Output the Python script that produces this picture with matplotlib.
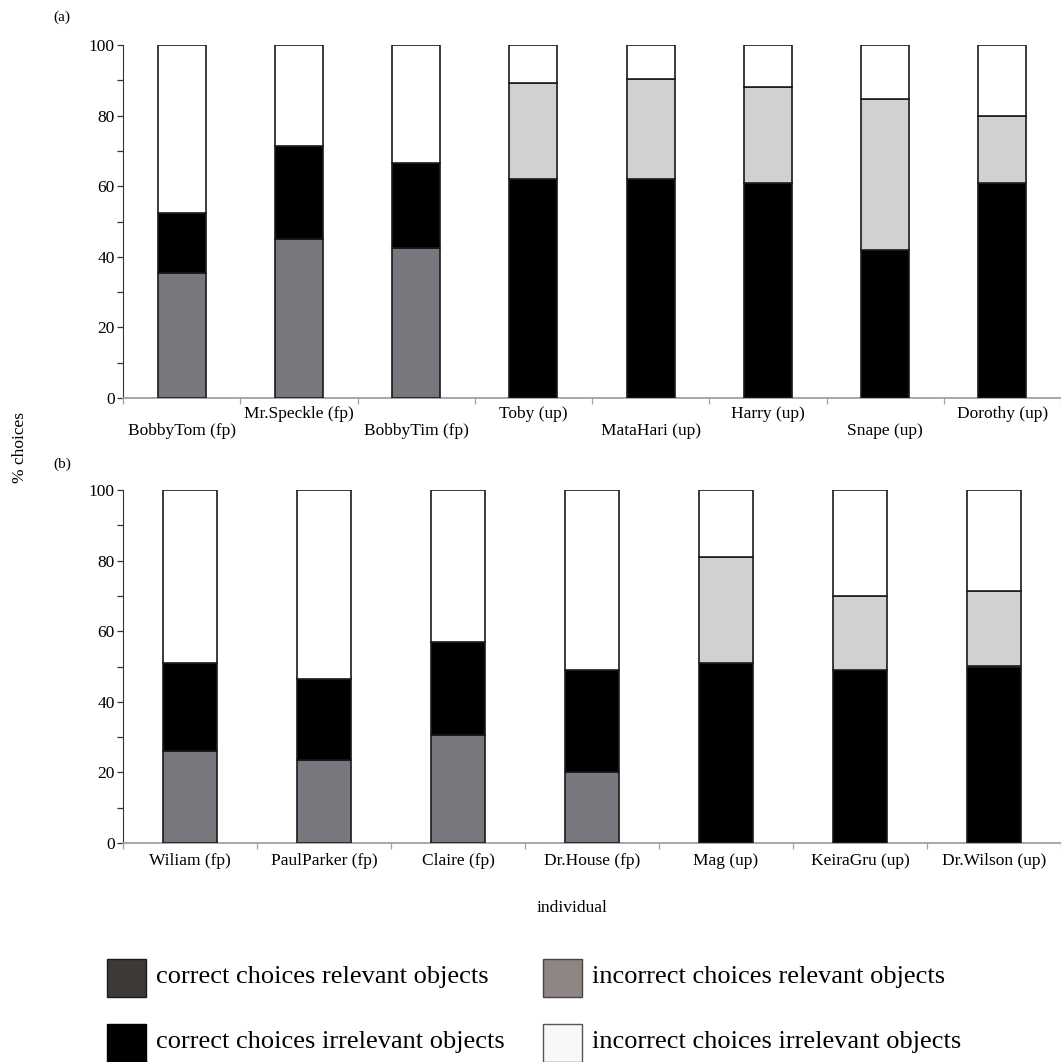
import numpy as np
import matplotlib
matplotlib.use("Agg")
import matplotlib.pyplot as plt
from matplotlib.patches import Rectangle


########################################
#   Data (% of choices per individual)
########################################

names_a = ["BobbyTom (fp)", "Mr.Speckle (fp)", "BobbyTim (fp)", "Toby (up)",
           "MataHari (up)", "Harry (up)", "Snape (up)", "Dorothy (up)"]
grey_a  = [35.5, 45.0, 42.5, 0, 0, 0, 0, 0]
black_a = [17.0, 26.5, 24.0, 62.0, 62.0, 60.8, 41.9, 60.8]
light_a = [0, 0, 0, 27.2, 28.4, 27.3, 42.7, 19.0]

names_b = ["Wiliam (fp)", "PaulParker (fp)", "Claire (fp)", "Dr.House (fp)",
           "Mag (up)", "KeiraGru (up)", "Dr.Wilson (up)"]
grey_b  = [26.0, 23.5, 30.5, 20.0, 0, 0, 0]
black_b = [25.0, 23.0, 26.5, 29.0, 51.0, 49.0, 50.0]
light_b = [0, 0, 0, 0, 30.0, 21.0, 21.5]

legend_names = ["correct choices relevant objects", "correct choices irrelevant objects",
                "incorrect choices relevant objects", "incorrect choices irrelevant objects"]
legend_colors = ["#3e3935", "#000000", "#8f8683", "#f8f8f8"]

plt.rcParams['font.family'] = ['Liberation Serif', 'DejaVu Serif']

W, H = 1061, 1062
fig = plt.figure(figsize=(W / 100, H / 100), dpi=100)


def px(x, y):
    return x / W, 1 - y / H


########################################
#   Stacked bars
########################################

def panel(rect, names, grey, black, light, stagger):
    ax = fig.add_axes(rect)
    n = len(names)
    x = np.arange(n) + 0.5
    grey = np.array(grey)
    black = np.array(black)
    light = np.array(light)
    white = 100 - grey - black - light

    kw = dict(width=0.41, edgecolor="#1a1a1a", linewidth=1.2, zorder=3)
    bottom = np.zeros(n)
    for vals, col in [(grey, "#77787d"), (black, "#000000"), (light, "#d0d1d3"), (white, "#ffffff")]:
        mask = vals > 0
        ax.bar(x[mask], vals[mask], bottom=bottom[mask], color=col, **kw)
        bottom = bottom + vals

    ax.set_xlim(0, n)
    ax.set_ylim(0, 100)

    for s in ["top", "right"]:
        ax.spines[s].set_visible(False)
    ax.spines["left"].set_color("#333333")
    ax.spines["bottom"].set_color("#a0a0a0")
    ax.spines["bottom"].set_linewidth(1.3)

    ax.set_yticks(np.arange(0, 101, 20))
    ax.set_yticks(np.arange(10, 100, 20), minor=True)
    ax.tick_params(axis="y", which="both", direction="out", length=4, width=0.9,
                   color="#333333", labelsize=12.5, pad=2)

    ax.set_xticks(x)
    ax.set_xticklabels(names)
    ax.set_xticks(np.arange(0, n + 1), minor=True)
    ax.tick_params(axis="x", which="major", length=0, labelsize=12.5)
    ax.tick_params(axis="x", which="minor", direction="out", length=4, width=0.9, color="#a0a0a0")

    for i, t in enumerate(ax.xaxis.get_major_ticks()):
        if stagger:
            t.set_pad(18 if i % 2 == 0 else 5.5)
        else:
            t.set_pad(7)
    return ax


panel([123 / W, 1 - 398 / H, (W - 123) / W, 353 / H], names_a, grey_a, black_a, light_a, True)
panel([123 / W, 1 - 843 / H, (W - 123) / W, 353 / H], names_b, grey_b, black_b, light_b, False)

fig.text(*px(62, 17), "(a)", fontsize=11, ha="center", va="center")
fig.text(*px(62, 464), "(b)", fontsize=11, ha="center", va="center")
fig.text(*px(20, 447), "% choices", fontsize=12.5, rotation=90, ha="center", va="center")
fig.text(*px(572, 908), "individual", fontsize=12.5, ha="center", va="center")

########################################
#   Legend
########################################

spots = [(107, 958), (107, 1023), (543, 958), (543, 1023)]
edges = ["#1a1a1a", "#000000", "#444444", "#555555"]
for (lx, ly), name, col, ec in zip(spots, legend_names, legend_colors, edges):
    x0, y0 = px(lx, ly + 39)
    fig.add_artist(Rectangle((x0, y0), 39 / W, 38 / H, facecolor=col, edgecolor=ec,
                             linewidth=1.0, transform=fig.transFigure))
    fig.text(*px(lx + 49, ly + 19), name, fontsize=19, ha="left", va="center")

plt.savefig("out.png", dpi=100)
